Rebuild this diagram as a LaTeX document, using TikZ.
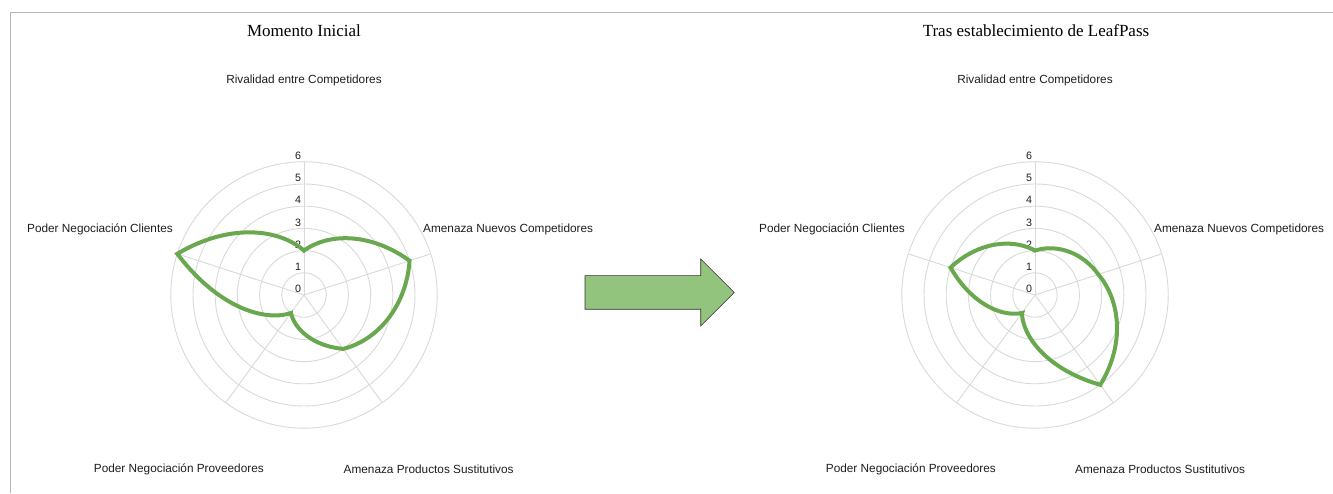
\documentclass[tikz,border=0pt]{standalone}
\usepackage{fontspec}
\setmainfont{Liberation Serif}
\newfontfamily\chartsans{Liberation Sans}
\definecolor{ringgray}{HTML}{D9D9D9}
\definecolor{framegray}{HTML}{B5B5B5}
\definecolor{radargreen}{HTML}{6AA84F}
\definecolor{arrowgreen}{HTML}{93C47D}
\definecolor{labelgray}{HTML}{1E1E1E}
\begin{document}
\begin{tikzpicture}[x=1pt, y=1pt,
  every node/.style={inner sep=0pt, text=labelgray},
  ring/.style={draw=ringgray, line width=0.9pt},
  axislabel/.style={font=\chartsans\fontsize{11.8}{14}\selectfont},
  ticklabel/.style={font=\chartsans\fontsize{10.7}{12}\selectfont},
  charttitle/.style={font=\fontsize{17}{20}\selectfont, text=black},
  radar/.style={draw=radargreen, line width=4pt, line join=miter}]
\useasboundingbox (0,0) rectangle (1333,493);
\draw[framegray, line width=1.4pt] (1333,480.3) -- (10.7,480.3) -- (10.7,0);

% Momento Inicial
\begin{scope}[shift={(304,198)}]
\coordinate (cL) at (0,0);
\foreach \k in {1,...,6} \draw[ring] (cL) circle ({22.2*\k});
\foreach \a in {90,18,-54,-126,162} \draw[ring] (cL) -- (\a:133.2);
\foreach \k in {0,...,6} \node[ticklabel] (tickL\k) at (-5.8,{22.2*\k+6}) {\k};
\node[charttitle] (titleL) at (0,264) {Momento Inicial};
\node[axislabel] (rivL) at (0,215) {Rivalidad entre Competidores};
\node[axislabel, anchor=west] (nuevosL) at (119,66) {Amenaza Nuevos Competidores};
\node[axislabel, anchor=west] (sustL) at (39.5,-174) {Amenaza Productos Sustitutivos};
\node[axislabel, anchor=east] (provL) at (-40,-174) {Poder Negociación Proveedores};
\node[axislabel, anchor=east] (cliL) at (-131,66) {Poder Negociación Clientes};
\draw[radar] (90:44.4) \foreach \a/\b [count=\k from 0] in {2/5,5/3,3/1,1/6,6/2}
  { -- plot[domain=0:1, samples=40, variable=\t] ({90-72*(\k+\t)}:{22.2*\a*pow(\b/\a,\t)}) } -- cycle;
\end{scope}

\draw[fill=arrowgreen, draw=black!80, line width=0.6pt] (585,183.7) -- (700.7,183.7) -- (700.7,167)
  -- (734.3,200.5) -- (700.7,234) -- (700.7,217.3) -- (585,217.3) -- cycle;

% Tras establecimiento de LeafPass
\begin{scope}[shift={(1035,198)}]
\coordinate (cR) at (0,0);
\foreach \k in {1,...,6} \draw[ring] (cR) circle ({22.2*\k});
\foreach \a in {90,18,-54,-126,162} \draw[ring] (cR) -- (\a:133.2);
\foreach \k in {0,...,6} \node[ticklabel] (tickR\k) at (-5.8,{22.2*\k+6}) {\k};
\node[charttitle] (titleR) at (1,264) {Tras establecimiento de LeafPass};
\node[axislabel] (rivR) at (0,215) {Rivalidad entre Competidores};
\node[axislabel, anchor=west] (nuevosR) at (119,66) {Amenaza Nuevos Competidores};
\node[axislabel, anchor=west] (sustR) at (40,-174) {Amenaza Productos Sustitutivos};
\node[axislabel, anchor=east] (provR) at (-39,-174) {Poder Negociación Proveedores};
\node[axislabel, anchor=east] (cliR) at (-130,66) {Poder Negociación Clientes};
\draw[radar] (90:44.4) \foreach \a/\b [count=\k from 0] in {2/3,3/5,5/1,1/4,4/2}
  { -- plot[domain=0:1, samples=40, variable=\t] ({90-72*(\k+\t)}:{22.2*\a*pow(\b/\a,\t)}) } -- cycle;
\end{scope}
\end{tikzpicture}
\end{document}
